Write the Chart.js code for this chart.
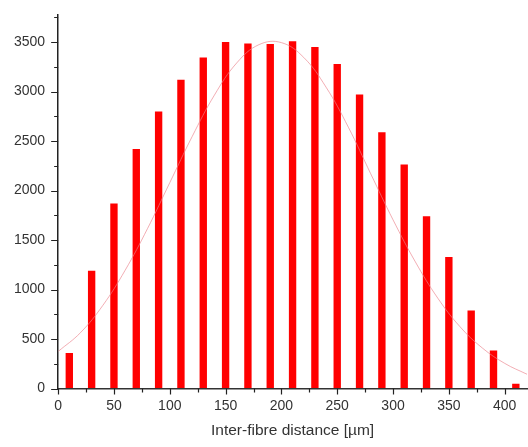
<!DOCTYPE html>
<html>
<head>
<meta charset="utf-8">
<script src="https://cdn.jsdelivr.net/npm/chart.js@4"></script>
<style>
html,body{margin:0;padding:0;background:#fff;}
#wrap{width:528px;height:447px;position:relative;}
</style>
</head>
<body>
<div id="wrap"><canvas id="c"></canvas></div>
<script>
// Histogram bins (bin centres, µm) and counts
const binCentres = [10, 30, 50, 70, 90, 110, 130, 150, 170, 190, 210, 230, 250, 270, 290, 310, 330, 350, 370, 390, 410];
const counts = [360, 1190, 1870, 2420, 2800, 3120, 3345, 3500, 3487, 3480, 3510, 3450, 3280, 2970, 2590, 2265, 1740, 1330, 790, 385, 50];
// Fit curve
const fitX = [0, 20, 40, 60, 80, 100, 120, 140, 160, 180, 200, 220, 240, 260, 280, 300, 320, 340, 360, 380, 400, 420];
const fitY = [375, 565, 840, 1195, 1615, 2080, 2545, 2965, 3290, 3475, 3495, 3345, 3045, 2640, 2170, 1705, 1280, 915, 625, 410, 255, 145];
const xTickLabels = ['0', '50', '100', '150', '200', '250', '300', '350', '400'];
const yTickLabels = ['0', '500', '1000', '1500', '2000', '2500', '3000', '3500'];
const xTitle = 'Inter-fibre distance [µm]';

const barData = binCentres.map((x, i) => ({x: x, y: counts[i]}));
const fitData = fitX.map((x, i) => ({x: x, y: fitY[i]}));

const minorTicks = {
  id: 'minorTicks',
  afterDraw(chart) {
    const ctx = chart.ctx;
    const xs = chart.scales.x, ys = chart.scales.y;
    const area = chart.chartArea;
    ctx.save();
    ctx.strokeStyle = '#222';
    ctx.lineWidth = 1.2;
    ctx.beginPath();
    for (let v = 0; v <= 3750; v += 250) {
      const py = Math.round(ys.getPixelForValue(v)) + 0.5;
      const len = (v % 500 === 0) ? 7 : 4;
      ctx.moveTo(area.left - len, py);
      ctx.lineTo(area.left, py);
    }
    for (let v = 0; v <= 400; v += 25) {
      const px = Math.round(xs.getPixelForValue(v)) + 0.5;
      const len = (v % 50 === 0) ? 6 : 4;
      ctx.moveTo(px, area.bottom);
      ctx.lineTo(px, area.bottom + len);
    }
    ctx.stroke();
    ctx.restore();
  }
};

const tickFont = {family: '"Liberation Sans", Arial, sans-serif', size: 14};

new Chart(document.getElementById('c'), {
  type: 'bar',
  data: {
    datasets: [
      {
        type: 'line',
        data: fitData,
        borderColor: 'rgba(235,130,140,0.65)',
        borderWidth: 1,
        pointRadius: 0,
        tension: 0.4,
        fill: false,
        order: 0
      },
      {
        type: 'bar',
        data: barData,
        backgroundColor: '#ff0000',
        borderWidth: 0,
        barPercentage: 0.33,
        categoryPercentage: 1.0,
        order: 1
      }
    ]
  },
  plugins: [minorTicks],
  options: {
    responsive: true,
    maintainAspectRatio: false,
    animation: false,
    layout: {padding: {left: 8, right: 1, top: -6, bottom: 7}},
    plugins: {legend: {display: false}, tooltip: {enabled: false}},
    scales: {
      x: {
        type: 'linear',
        min: 0,
        max: 420,
        offset: false,
        afterBuildTicks: (scale) => { scale.ticks = xTickLabels.map(v => ({value: Number(v)})); },
        grid: {drawOnChartArea: false, drawTicks: true, tickLength: 6, tickColor: 'rgba(0,0,0,0)'},
        border: {display: true, color: '#333', width: 1.5},
        ticks: {
          padding: 3,
          color: '#333',
          font: tickFont,
          maxRotation: 0,
          autoSkip: false,
          callback: (v) => String(v)
        },
        title: {
          display: true,
          text: xTitle,
          color: '#333',
          font: {family: '"Liberation Sans", Arial, sans-serif', size: 15.5},
          padding: {top: 4, bottom: 0}
        }
      },
      y: {
        type: 'linear',
        min: 0,
        max: 3780,
        afterBuildTicks: (scale) => { scale.ticks = yTickLabels.map(v => ({value: Number(v)})); },
        grid: {drawOnChartArea: false, drawTicks: true, tickLength: 7, tickColor: 'rgba(0,0,0,0)'},
        border: {display: true, color: '#222', width: 1.5},
        ticks: {
          autoSkip: false,
          padding: 6,
          color: '#333',
          font: tickFont,
          callback: (v) => String(v)
        }
      }
    }
  }
});
</script>
</body>
</html>
